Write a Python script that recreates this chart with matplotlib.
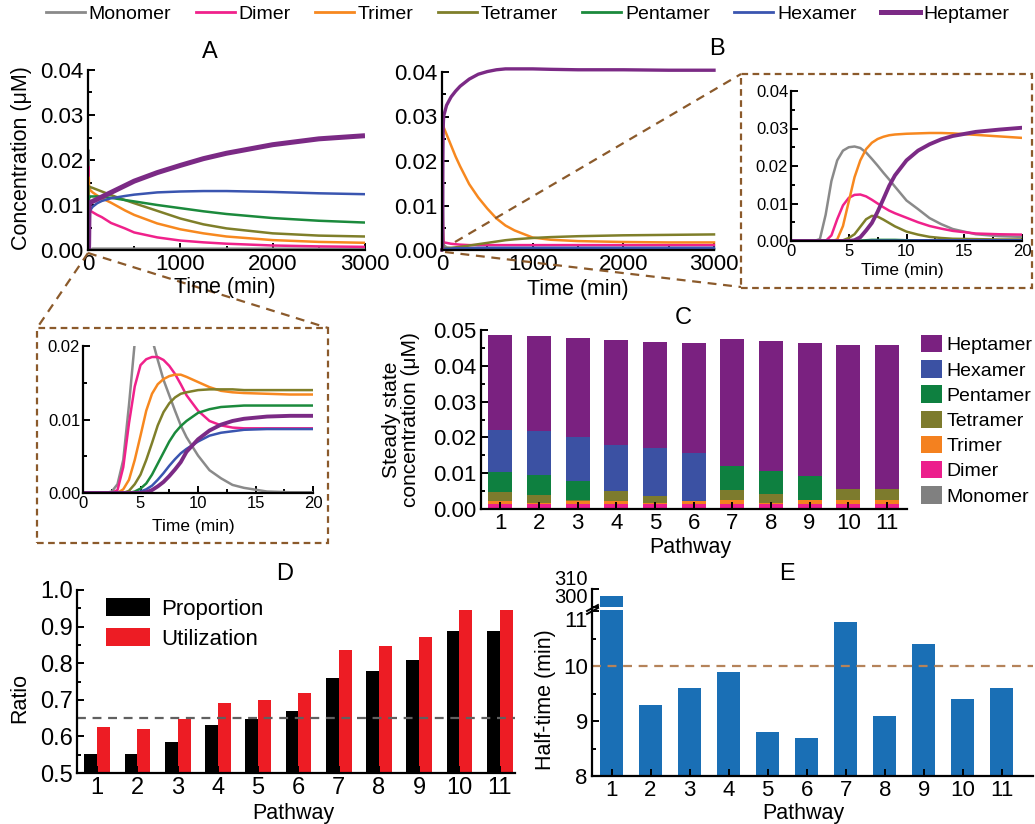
import matplotlib
matplotlib.use('Agg')
import matplotlib.pyplot as plt
from matplotlib.lines import Line2D
from matplotlib.patches import Rectangle, Patch
from matplotlib.ticker import MultipleLocator, FormatStrFormatter
import numpy as np

plt.rcParams['font.family'] = ['Liberation Sans', 'DejaVu Sans']

W, H = 1035, 824
fig = plt.figure(figsize=(W / 100, H / 100), dpi=100)

# ---------------- data ----------------
species = ['Monomer', 'Dimer', 'Trimer', 'Tetramer', 'Pentamer', 'Hexamer', 'Heptamer']
line_colors = ['#8a8a8a', '#f0218b', '#f7881f', '#7f7f2a', '#1b8a3c', '#3a55b0', '#7b2a85']
bar_colors = ['#808080', '#ec1e8c', '#f4811f', '#7d7b2d', '#0e8040', '#3b51a3', '#7a2180']

# early time course (0-20 min), panel A inset
t_early = [0, 2, 2.5, 3, 3.5, 4, 4.5, 5, 5.5, 6, 6.5, 7, 7.5, 8, 8.5, 9, 10, 11, 12, 13, 14, 16, 18, 20]
A_early = {
    'Monomer':  [0, 0, 0.0002, 0.0012, 0.0045, 0.012, 0.0205, 0.0218, 0.0222, 0.021, 0.0181, 0.0154, 0.0133, 0.0112, 0.0092, 0.0076, 0.0051, 0.0031, 0.002, 0.0011, 0.0007, 0.0002, 0.0001, 0.0001],
    'Dimer':    [0, 0, 0, 0.0004, 0.0035, 0.0095, 0.0145, 0.0174, 0.0182, 0.0185, 0.0185, 0.0181, 0.0173, 0.0162, 0.0148, 0.0133, 0.0112, 0.0098, 0.0092, 0.0089, 0.0088, 0.0088, 0.0088, 0.0088],
    'Trimer':   [0, 0, 0, 0, 0.0005, 0.0018, 0.0045, 0.0078, 0.0112, 0.0135, 0.0148, 0.0155, 0.0159, 0.0161, 0.0161, 0.0158, 0.0151, 0.0144, 0.0139, 0.0137, 0.0136, 0.0135, 0.0134, 0.0134],
    'Tetramer': [0, 0, 0, 0, 0, 0.0003, 0.0012, 0.0025, 0.0045, 0.0068, 0.0092, 0.011, 0.0122, 0.013, 0.0135, 0.0137, 0.014, 0.0141, 0.0141, 0.0141, 0.014, 0.014, 0.014, 0.014],
    'Pentamer': [0, 0, 0, 0, 0, 0, 0.0002, 0.0006, 0.0013, 0.0025, 0.004, 0.0055, 0.007, 0.0082, 0.0091, 0.0098, 0.0109, 0.0114, 0.0117, 0.0118, 0.0119, 0.0119, 0.0119, 0.0119],
    'Hexamer':  [0, 0, 0, 0, 0, 0, 0, 0.0002, 0.0005, 0.001, 0.0018, 0.0027, 0.0037, 0.0046, 0.0054, 0.006, 0.007, 0.0078, 0.0082, 0.0084, 0.0086, 0.0087, 0.0087, 0.0087],
    'Heptamer': [0, 0, 0, 0, 0, 0, 0, 0, 0.0001, 0.0004, 0.0009, 0.0015, 0.0023, 0.0032, 0.0042, 0.0056, 0.0073, 0.0085, 0.0093, 0.0098, 0.0101, 0.0104, 0.0105, 0.0105],
}
# long time course (panel A)
t_A_long = [50, 100, 150, 250, 400, 500, 750, 1000, 1250, 1500, 2000, 2500, 3000]
A_long = {
    'Monomer':  [0.0003] * 13,
    'Dimer':    [0.0084, 0.0078, 0.0073, 0.006, 0.0048, 0.0039, 0.0028, 0.0021, 0.0017, 0.0014, 0.001, 0.0008, 0.0007],
    'Trimer':   [0.0128, 0.0121, 0.0115, 0.0105, 0.0088, 0.0078, 0.0059, 0.0046, 0.0037, 0.003, 0.0022, 0.0018, 0.0016],
    'Tetramer': [0.0138, 0.0134, 0.013, 0.0122, 0.0111, 0.0104, 0.0087, 0.007, 0.0057, 0.0048, 0.0037, 0.0032, 0.003],
    'Pentamer': [0.0119, 0.0119, 0.0118, 0.0116, 0.0111, 0.0108, 0.01, 0.0093, 0.0086, 0.008, 0.0071, 0.0065, 0.0061],
    'Hexamer':  [0.0096, 0.0104, 0.0109, 0.0115, 0.012, 0.0123, 0.0128, 0.013, 0.0131, 0.0131, 0.0129, 0.0126, 0.0124],
    'Heptamer': [0.0108, 0.0113, 0.0118, 0.0128, 0.0143, 0.0153, 0.0172, 0.0188, 0.0203, 0.0215, 0.0234, 0.0247, 0.0254],
}
# panel B inset (0-20 min)
B_early = {
    'Monomer':  [0, 0, 0.0005, 0.007, 0.016, 0.0215, 0.0241, 0.025, 0.0252, 0.0248, 0.0236, 0.0219, 0.0201, 0.0182, 0.0164, 0.0145, 0.0108, 0.0085, 0.0061, 0.0045, 0.0032, 0.0018, 0.0013, 0.0011],
    'Dimer':    [0, 0, 0, 0, 0.0015, 0.0058, 0.0095, 0.0115, 0.0123, 0.0124, 0.0119, 0.011, 0.01, 0.009, 0.0081, 0.0074, 0.0062, 0.005, 0.004, 0.0033, 0.0027, 0.002, 0.0018, 0.0017],
    'Trimer':   [0, 0, 0, 0, 0, 0.0004, 0.004, 0.0105, 0.017, 0.0215, 0.0245, 0.0262, 0.0272, 0.0278, 0.0282, 0.0284, 0.0286, 0.0287, 0.0288, 0.0288, 0.0287, 0.0283, 0.0279, 0.0275],
    'Tetramer': [0, 0, 0, 0, 0, 0, 0.0002, 0.0008, 0.0018, 0.0038, 0.0058, 0.0067, 0.0065, 0.0057, 0.0048, 0.0039, 0.0025, 0.0017, 0.0011, 0.0008, 0.0006, 0.0005, 0.0004, 0.0004],
    'Pentamer': [0, 0, 0, 0, 0, 0, 0, 0, 0, 0.0001, 0.0002, 0.0003, 0.0003, 0.0003, 0.0003, 0.0003, 0.0002, 0.0002, 0.0002, 0.0001, 0.0001, 0.0001, 0.0001, 0.0001],
    'Hexamer':  [0, 0, 0, 0, 0, 0, 0, 0, 0, 0, 0, 0.0001, 0.0001, 0.0001, 0.0001, 0.0001, 0.0001, 0.0002, 0.0002, 0.0002, 0.0002, 0.0002, 0.0002, 0.0002],
    'Heptamer': [0, 0, 0, 0, 0, 0, 0, 0, 0.0002, 0.001, 0.0028, 0.0048, 0.0078, 0.0112, 0.0147, 0.0175, 0.0215, 0.0241, 0.0258, 0.0271, 0.028, 0.0291, 0.0297, 0.0302],
}
t_B_long = [50, 100, 150, 200, 300, 400, 500, 600, 700, 800, 1000, 1200, 1500, 2000, 2500, 3000]
B_long = {
    'Monomer':  [0.0006, 0.0004, 0.0003, 0.0003, 0.0002, 0.0002, 0.0002, 0.0002, 0.0002, 0.0002, 0.0002, 0.0002, 0.0002, 0.0002, 0.0002, 0.0002],
    'Dimer':    [0.0016, 0.0014, 0.0013, 0.0012, 0.0011, 0.0011, 0.0011, 0.0011, 0.0011, 0.0011, 0.0011, 0.0011, 0.0011, 0.0011, 0.0011, 0.0011],
    'Trimer':   [0.026, 0.0235, 0.021, 0.0188, 0.0148, 0.0118, 0.0093, 0.0071, 0.0055, 0.0044, 0.0028, 0.0023, 0.002, 0.0018, 0.0017, 0.0017],
    'Tetramer': [0.0004, 0.0005, 0.0006, 0.0007, 0.001, 0.0013, 0.0016, 0.0019, 0.0022, 0.0024, 0.0027, 0.0029, 0.0031, 0.0033, 0.0034, 0.0035],
    'Pentamer': [0.0001, 0.0002, 0.0002, 0.0002, 0.0002, 0.0002, 0.0002, 0.0002, 0.0002, 0.0002, 0.0002, 0.0002, 0.0002, 0.0002, 0.0002, 0.0002],
    'Hexamer':  [0.0003, 0.0003, 0.0004, 0.0004, 0.0004, 0.0005, 0.0005, 0.0005, 0.0005, 0.0005, 0.0005, 0.0005, 0.0005, 0.0005, 0.0005, 0.0005],
    'Heptamer': [0.0325, 0.0344, 0.0357, 0.0368, 0.0384, 0.0395, 0.0401, 0.0405, 0.0407, 0.0407, 0.0407, 0.0406, 0.0405, 0.0405, 0.0404, 0.0404],
}

# panel C: steady-state concentrations per pathway
pathways = list(range(1, 12))
steady = {
    'Monomer':  [0.0004] * 11,
    'Dimer':    [0.0010] * 11,
    'Trimer':   [0.0009, 0.0004, 0.0009, 0.0009, 0.0002, 0.0009, 0.0011, 0.0002, 0.0011, 0.0011, 0.0011],
    'Tetramer': [0.0024, 0.0020, 0.0001, 0.0026, 0.0021, 0.0, 0.0028, 0.0026, 0.0, 0.0030, 0.0030],
    'Pentamer': [0.0055, 0.0058, 0.0054, 0.0, 0.0, 0.0, 0.0067, 0.0065, 0.0068, 0.0, 0.0],
    'Hexamer':  [0.0119, 0.0123, 0.0124, 0.0130, 0.0132, 0.0134, 0.0, 0.0, 0.0, 0.0, 0.0],
    'Heptamer': [0.0265, 0.0264, 0.0275, 0.0294, 0.0298, 0.0306, 0.0356, 0.0362, 0.0371, 0.0404, 0.0404],
}

# panel D
proportion = [0.553, 0.553, 0.584, 0.630, 0.647, 0.669, 0.759, 0.780, 0.810, 0.889, 0.889]
utilization = [0.625, 0.620, 0.647, 0.692, 0.700, 0.718, 0.836, 0.848, 0.872, 0.944, 0.944]
ratio_ref = 0.65

# panel E
half_time = [306, 9.3, 9.6, 9.9, 8.8, 8.7, 10.8, 9.1, 10.4, 9.4, 9.6]
half_ref = 10

# ---------------- helpers ----------------
def px_axes(x0, y0, x1, y1):
    return fig.add_axes([x0 / W, 1 - y1 / H, (x1 - x0) / W, (y1 - y0) / H])

def style(ax, fs):
    for s in ['top', 'right']:
        ax.spines[s].set_visible(False)
    for s in ['left', 'bottom']:
        ax.spines[s].set_linewidth(1.6)
    ax.tick_params(which='both', direction='in', width=1.4, labelsize=fs, pad=3)
    ax.tick_params(which='major', length=5)
    ax.tick_params(which='minor', length=3)

def ftext(x, y, s, **kw):
    kw.setdefault('ha', 'center')
    kw.setdefault('va', 'center')
    fig.text(x / W, 1 - y / H, s, **kw)

def fline(x0, y0, x1, y1, **kw):
    fig.add_artist(Line2D([x0 / W, x1 / W], [1 - y0 / H, 1 - y1 / H],
                          transform=fig.transFigure, **kw))

def fbox(x0, y0, x1, y1, **kw):
    fig.add_artist(Rectangle((x0 / W, 1 - y1 / H), (x1 - x0) / W, (y1 - y0) / H,
                             transform=fig.transFigure, fill=False, **kw))

def lw_for(name, base, thick):
    return thick if name == 'Heptamer' else base

brown = '#8b5a2b'

# ---------------- panel A ----------------
axA = px_axes(88, 70, 365, 250)
for name, c in zip(species, line_colors):
    axA.plot(t_early + t_A_long, A_early[name] + A_long[name], color=c,
             lw=lw_for(name, 1.8, 3.6), solid_capstyle='butt')
axA.set_xlim(0, 3000)
axA.set_ylim(0, 0.04)
axA.xaxis.set_major_locator(MultipleLocator(1000))
axA.xaxis.set_minor_locator(MultipleLocator(500))
axA.yaxis.set_major_locator(MultipleLocator(0.01))
axA.yaxis.set_minor_locator(MultipleLocator(0.005))
axA.yaxis.set_major_formatter(FormatStrFormatter('%.2f'))
style(axA, 16)

# ---------------- panel B ----------------
axB = px_axes(442, 72, 714, 250)
for name, c in zip(species, line_colors):
    axB.plot(t_early + t_B_long, B_early[name] + B_long[name], color=c,
             lw=lw_for(name, 1.8, 2.4), clip_on=False)
axB.set_xlim(0, 3000)
axB.set_ylim(0, 0.04)
axB.xaxis.set_major_locator(MultipleLocator(1000))
axB.xaxis.set_minor_locator(MultipleLocator(500))
axB.yaxis.set_major_locator(MultipleLocator(0.01))
axB.yaxis.set_minor_locator(MultipleLocator(0.005))
axB.yaxis.set_major_formatter(FormatStrFormatter('%.2f'))
style(axB, 16)

# ---------------- inset B ----------------
axBi = px_axes(791, 91, 1022, 241)
for name, c in zip(species, line_colors):
    axBi.plot(t_early, B_early[name], color=c, lw=lw_for(name, 1.8, 2.8))
axBi.set_xlim(0, 20)
axBi.set_ylim(0, 0.04)
axBi.xaxis.set_major_locator(MultipleLocator(5))
axBi.xaxis.set_minor_locator(MultipleLocator(2.5))
axBi.yaxis.set_major_locator(MultipleLocator(0.01))
axBi.yaxis.set_minor_locator(MultipleLocator(0.005))
axBi.yaxis.set_major_formatter(FormatStrFormatter('%.2f'))
style(axBi, 12)
axBi.tick_params(pad=2)

# ---------------- inset A ----------------
axAi = px_axes(83, 346, 313, 493)
for name, c in zip(species, line_colors):
    axAi.plot(t_early, A_early[name], color=c, lw=lw_for(name, 1.8, 2.8))
axAi.set_xlim(0, 20)
axAi.set_ylim(0, 0.02)
axAi.xaxis.set_major_locator(MultipleLocator(5))
axAi.xaxis.set_minor_locator(MultipleLocator(2.5))
axAi.yaxis.set_major_locator(MultipleLocator(0.01))
axAi.yaxis.set_minor_locator(MultipleLocator(0.005))
axAi.yaxis.set_major_formatter(FormatStrFormatter('%.2f'))
style(axAi, 12)
axAi.tick_params(pad=2)

# ---------------- panel C ----------------
axC = px_axes(481, 330, 907, 509)
bottom = np.zeros(len(pathways))
for name, c in zip(species, bar_colors):
    vals = np.array(steady[name])
    axC.bar(pathways, vals, width=0.62, bottom=bottom, color=c, edgecolor='none', label=name)
    bottom += vals
axC.set_xlim(0.5, 11.52)
axC.set_ylim(0, 0.05)
axC.set_xticks(pathways)
axC.yaxis.set_major_locator(MultipleLocator(0.01))
axC.yaxis.set_minor_locator(MultipleLocator(0.005))
axC.yaxis.set_major_formatter(FormatStrFormatter('%.2f'))
style(axC, 16)
handlesC = [Patch(facecolor=c, edgecolor='none') for c in bar_colors][::-1]
axC.legend(handlesC, species[::-1], loc='upper left', bbox_to_anchor=(921 / W, 1 - 335 / H),
           bbox_transform=fig.transFigure, frameon=False, fontsize=14, handlelength=1.1,
           handleheight=1.0, handletextpad=0.2, labelspacing=0.3, borderpad=0, borderaxespad=0)

# ---------------- panel D ----------------
axD = px_axes(77, 590, 515, 773)
x = np.array(pathways)
axD.bar(x - 0.16, proportion, width=0.32, color='#000000', label='Proportion')
axD.bar(x + 0.16, utilization, width=0.32, color='#ed1c24', label='Utilization')
axD.axhline(ratio_ref, color='#606060', ls=(0, (4, 3)), lw=1.6)
axD.set_xlim(0.5, 11.38)
axD.set_ylim(0.5, 1.0)
axD.set_xticks(pathways)
axD.yaxis.set_major_locator(MultipleLocator(0.1))
axD.yaxis.set_minor_locator(MultipleLocator(0.05))
axD.yaxis.set_major_formatter(FormatStrFormatter('%.1f'))
style(axD, 17)
axD.legend(loc='upper left', bbox_to_anchor=(106 / W, 1 - 598 / H), bbox_transform=fig.transFigure,
           frameon=False, fontsize=16, handlelength=2.0, handleheight=0.9, handletextpad=0.5,
           labelspacing=0.35, borderpad=0, borderaxespad=0)

# ---------------- panel E (broken axis) ----------------
blue = '#1a6fb5'
axE = px_axes(592, 610, 1033, 776)
axE.bar(pathways, half_time, width=0.6, color=blue)
axE.axhline(half_ref, color='#b5835a', ls=(0, (4, 3)), lw=1.6)
axE.set_xlim(0.5, 11.8)
axE.set_ylim(8, 11.02)
axE.set_xticks(pathways)
axE.set_yticks([8, 9, 10, 11])
axE.yaxis.set_minor_locator(MultipleLocator(0.5))
style(axE, 16)
fig.canvas.draw()
axE.get_yticklabels()[-1].set_va('top')

axEu = px_axes(592, 589, 1033, 607)
axEu.bar(pathways, half_time, width=0.6, color=blue)
axEu.set_xlim(0.5, 11.8)
axEu.set_ylim(300, 310)
axEu.set_yticks([300, 310])
axEu.patch.set_alpha(0)
style(axEu, 14.5)
axEu.spines['bottom'].set_visible(False)
axEu.tick_params(axis='x', which='both', bottom=False, labelbottom=False)
axEu.tick_params(axis='y', length=5)
for lab in axEu.get_yticklabels():
    lab.set_va('bottom')
# break marks
fline(587, 611, 598, 605, color='black', lw=1.4)
fline(587, 614, 598, 608, color='black', lw=1.4)

# ---------------- connectors & boxes ----------------
dash = (0, (4, 3))
fline(88, 253, 37, 328, color=brown, lw=1.6, ls=dash)
fline(88, 253, 328, 328, color=brown, lw=1.6, ls=dash)
fbox(37, 328, 328, 543, ec=brown, lw=1.6, ls=(0, (3, 2)))
fline(455, 242, 741, 74, color=brown, lw=1.6, ls=dash)
fline(445, 252, 741, 287, color=brown, lw=1.6, ls=dash)
fbox(741, 74, 1032, 288, ec=brown, lw=1.6, ls=(0, (3, 2)))

# ---------------- texts ----------------
ftext(210, 52, 'A', fontsize=17)
ftext(717, 49, 'B', fontsize=17)
ftext(683, 318, 'C', fontsize=17)
ftext(285, 574, 'D', fontsize=17)
ftext(787, 574, 'E', fontsize=17)

ftext(22, 158, 'Concentration (\u03bcM)', fontsize=15.5, rotation=90)
ftext(225, 288, 'Time (min)', fontsize=15.5)
ftext(578, 289, 'Time (min)', fontsize=15.5)
ftext(193, 527, 'Time (min)', fontsize=12.5)
ftext(902, 270, 'Time (min)', fontsize=12.5)
ftext(401, 420, 'Steady state\nconcentration (\u03bcM)', fontsize=15, rotation=90,
      linespacing=1.05, multialignment='center')
ftext(690, 548, 'Pathway', fontsize=15.5)
ftext(20, 698, 'Ratio', fontsize=15.5, rotation=90)
ftext(293, 813, 'Pathway', fontsize=15.5)
ftext(545, 700, 'Half-time (min)', fontsize=15.5, rotation=90)
ftext(803, 813, 'Pathway', fontsize=15.5)

# ---------------- top legend ----------------
handles = [Line2D([], [], color=c, lw=(3.6 if n == 'Heptamer' else 2.0)) for n, c in zip(species, line_colors)]
fig.legend(handles, species, loc='upper left', bbox_to_anchor=(46 / W, 1 - 5 / H), ncol=7,
           frameon=False, fontsize=14, handlelength=2.0, handletextpad=0.2, columnspacing=1.25,
           borderaxespad=0, borderpad=0)

fig.savefig('out.png', dpi=100)
